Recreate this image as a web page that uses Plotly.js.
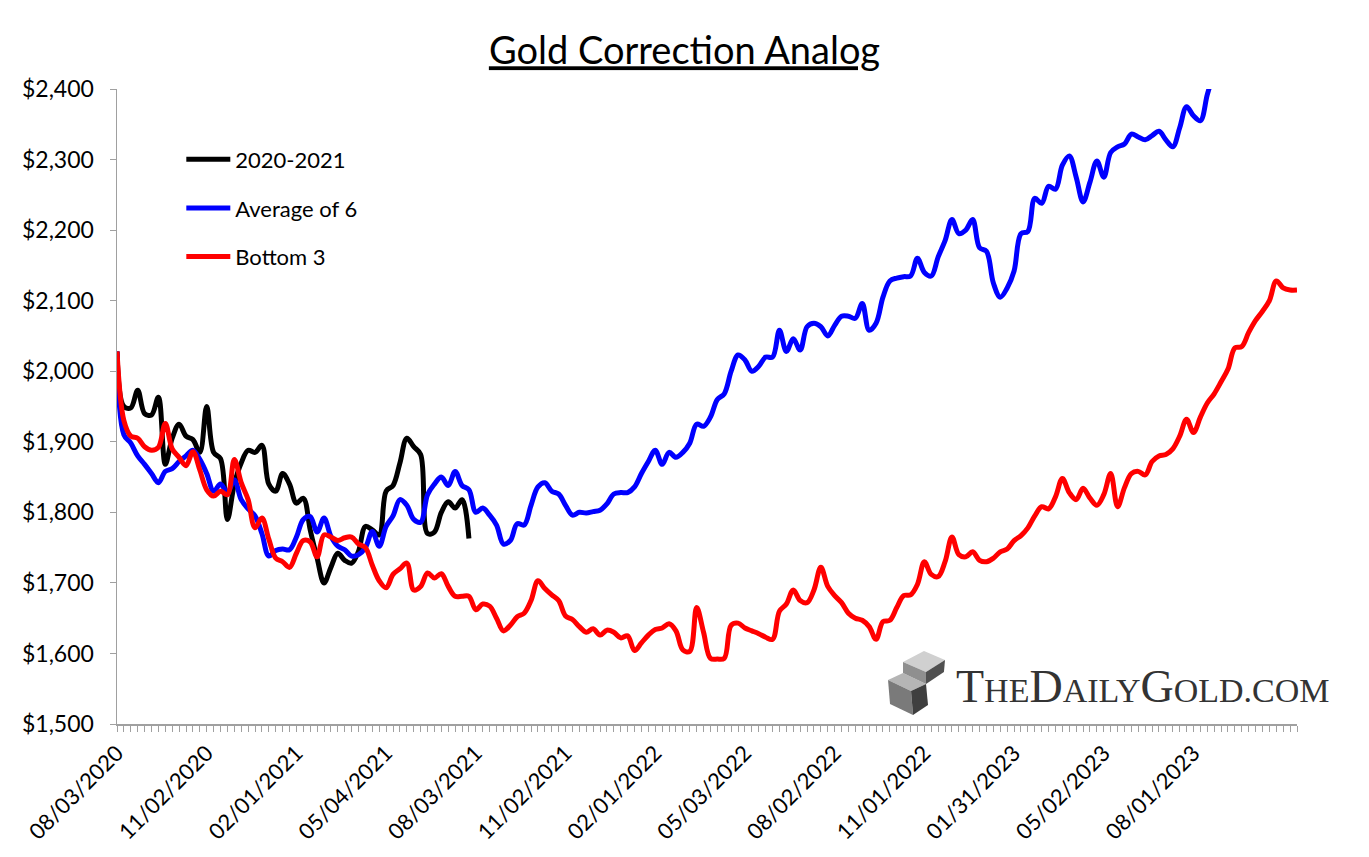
<!DOCTYPE html>
<html>
<head>
<meta charset="utf-8">
<script src="https://cdn.plot.ly/plotly-3.0.1.min.js"></script>
<style>
html,body{margin:0;padding:0;background:#fff;}
#chart{width:1369px;height:857px;}
</style>
</head>
<body>
<div id="chart"></div>
<script>
// Weekly category labels shown every 13 weeks
var tickLabels = ["08/03/2020","11/02/2020","02/01/2021","05/04/2021","08/03/2021","11/02/2021",
  "02/01/2022","05/03/2022","08/02/2022","11/01/2022","01/31/2023","05/02/2023","08/01/2023"];
var labelStep = 13;
var weekCount = 172;

var series2020 = [2028,1950,1948,1973,1940,1938,1963,1868,1905,1925,1908,1903,1885,1950,1885,1876,
  1790,1840,1870,1888,1885,1895,1840,1830,1855,1840,1813,1820,1775,1735,1700,1722,1742,1732,1728,1745,
  1780,1775,1768,1830,1838,1870,1905,1893,1882,1770,1772,1800,1815,1806,1818,1763];

var seriesAvg6 = [2028,1910,1898,1880,1868,1855,1842,1858,1862,1872,1880,1888,1875,1855,1830,1840,
  1828,1846,1818,1805,1795,1770,1738,1746,1748,1747,1765,1790,1794,1772,1792,1766,1752,1747,1738,1740,
  1750,1773,1752,1780,1795,1818,1810,1790,1786,1825,1840,1850,1838,1858,1838,1832,1800,1806,1796,1782,
  1755,1760,1784,1782,1810,1836,1842,1830,1826,1810,1796,1800,1799,1801,1803,1812,1826,1828,1828,1836,
  1855,1872,1888,1868,1885,1878,1885,1898,1925,1922,1935,1960,1968,2000,2023,2016,2000,2007,2020,2020,
  2058,2028,2046,2030,2063,2068,2063,2050,2065,2078,2078,2075,2096,2058,2068,2105,2128,2132,2134,2135,
  2160,2140,2135,2162,2185,2215,2195,2200,2215,2175,2170,2125,2105,2118,2142,2195,2198,2245,2238,2262,
  2258,2292,2305,2275,2240,2268,2298,2275,2310,2318,2322,2336,2332,2328,2334,2340,2328,2318,2345,2375,
  2362,2355,2392,2425];

var seriesBottom3 = [2028,1930,1908,1905,1893,1888,1892,1926,1890,1878,1866,1886,1860,1832,1823,1830,
  1825,1875,1842,1818,1778,1792,1762,1735,1730,1722,1742,1760,1758,1737,1768,1765,1760,1764,1765,1755,
  1750,1725,1703,1693,1712,1720,1728,1690,1695,1714,1707,1713,1695,1681,1681,1681,1662,1670,1667,1650,
  1632,1640,1652,1657,1675,1703,1692,1683,1675,1653,1648,1638,1630,1635,1626,1633,1630,1622,1625,1604,
  1615,1626,1634,1636,1642,1632,1605,1603,1665,1630,1593,1592,1593,1640,1643,1636,1632,1628,1623,1620,
  1660,1670,1690,1675,1672,1690,1722,1695,1682,1672,1657,1650,1647,1638,1620,1645,1647,1665,1682,1683,
  1698,1730,1712,1709,1730,1765,1740,1737,1744,1732,1730,1735,1744,1748,1760,1767,1778,1795,1808,1805,
  1822,1848,1828,1818,1834,1820,1810,1825,1855,1808,1835,1855,1858,1853,1872,1880,1882,1890,1908,1932,
  1913,1935,1955,1968,1985,2003,2033,2035,2055,2072,2085,2100,2128,2118,2115,2115];

var seriesNames = ["2020-2021","Average of 6","Bottom 3"];
var seriesColors = ["#000000","#0000ff","#ff0000"];
var yTicks = [1500,1600,1700,1800,1900,2000,2100,2200,2300,2400];

function idx(arr){ return arr.map(function(v,i){return i;}); }

var tickVals = [], tickText = [];
for (var i = 0; i < weekCount; i++) {
  tickVals.push(i);
  tickText.push(i % labelStep === 0 && tickLabels[i/labelStep] ? tickLabels[i/labelStep] : "");
}

var allSeries = [series2020, seriesAvg6, seriesBottom3];
var traces = allSeries.map(function(s, k){
  return {
    x: idx(s), y: s, type: "scatter", mode: "lines",
    name: seriesNames[k], legendgroup: "g"+k,
    line: {color: seriesColors[k], width: 5, shape: "spline", smoothing: 1},
    hoverinfo: "skip"
  };
});

var font = "Lato, 'Open Sans', sans-serif";

// plot-area geometry (pixels) used only to place the decorative logo
var PL = 117, PR = 1297, PT = 89, PB = 724;
function px(x, y){ return ((x-PL)/(PR-PL)).toFixed(4) + " " + ((PB-y)/(PB-PT)).toFixed(4); }
function poly(pts, color){
  return {type: "path", xref: "paper", yref: "paper", layer: "above",
    path: "M " + pts.map(function(p){return px(p[0],p[1]);}).join(" L ") + " Z",
    fillcolor: color, line: {width: 0}};
}

var layout = {
  width: 1369, height: 857,
  margin: {l: PL, r: 1369-PR, t: PT, b: 857-PB},
  paper_bgcolor: "#ffffff", plot_bgcolor: "#ffffff",
  font: {family: font, color: "#000", size: 22},
  title: {
    text: "<u>Gold Correction Analog</u>",
    font: {family: font, size: 38, color: "#000"},
    x: 0.5, xref: "container", xanchor: "center",
    y: 1 - 51/857, yref: "container", yanchor: "middle"
  },
  showlegend: true,
  legend: {
    x: 0.0545, y: 0.922, xanchor: "left", yanchor: "top",
    bgcolor: "rgba(0,0,0,0)", borderwidth: 0,
    font: {family: font, size: 22, color: "#000"},
    tracegroupgap: 17, traceorder: "grouped", itemwidth: 44
  },
  xaxis: {
    range: [0, weekCount - 1],
    tickmode: "array", tickvals: tickVals, ticktext: tickText,
    tickangle: -45, ticks: "outside", ticklen: 6, tickwidth: 1, tickcolor: "#a0a0a0",
    showline: true, linecolor: "#a0a0a0", linewidth: 1.5,
    showgrid: false, zeroline: false,
    tickfont: {family: font, size: 22, color: "#000"},
    fixedrange: true
  },
  yaxis: {
    range: [1500, 2400],
    tickmode: "array", tickvals: yTicks,
    ticktext: yTicks.map(function(v){ return "$" + v.toLocaleString("en-US"); }),
    ticks: "outside", ticklen: 6, tickwidth: 1, tickcolor: "#a0a0a0",
    ticklabelstandoff: 11,
    showline: true, linecolor: "#a0a0a0", linewidth: 1.5,
    showgrid: false, zeroline: false,
    tickfont: {family: font, size: 23, color: "#000"},
    fixedrange: true
  },
  shapes: [
    // lower bar
    poly([[888,680],[903,673],[926,684],[911,691]], "#b5b5b5"),
    poly([[888,680],[911,691],[913,715],[890,704]], "#7a7a7a"),
    poly([[911,691],[926,684],[928,705],[913,715]], "#3f3f3f"),
    // upper bar
    poly([[903,662],[924,651],[945,660],[926,672]], "#d0d0d0"),
    poly([[903,662],[926,672],[926,684],[903,673]], "#8f8f8f"),
    poly([[926,672],[945,660],[944,672],[926,684]], "#505050")
  ],
  annotations: [
    {xref: "paper", yref: "paper", x: (954-PL)/(PR-PL), y: (PB-686)/(PB-PT), xanchor: "left", yanchor: "middle",
     showarrow: false,
     text: "T<span style='font-size:34px'>HE</span>D<span style='font-size:34px'>AILY</span>G<span style='font-size:34px'>OLD.COM</span>",
     font: {family: "'Liberation Serif', 'DejaVu Serif', serif", size: 46, color: "#333333"}}
  ]
};

Plotly.newPlot("chart", traces, layout, {staticPlot: true, displayModeBar: false});
</script>
</body>
</html>
